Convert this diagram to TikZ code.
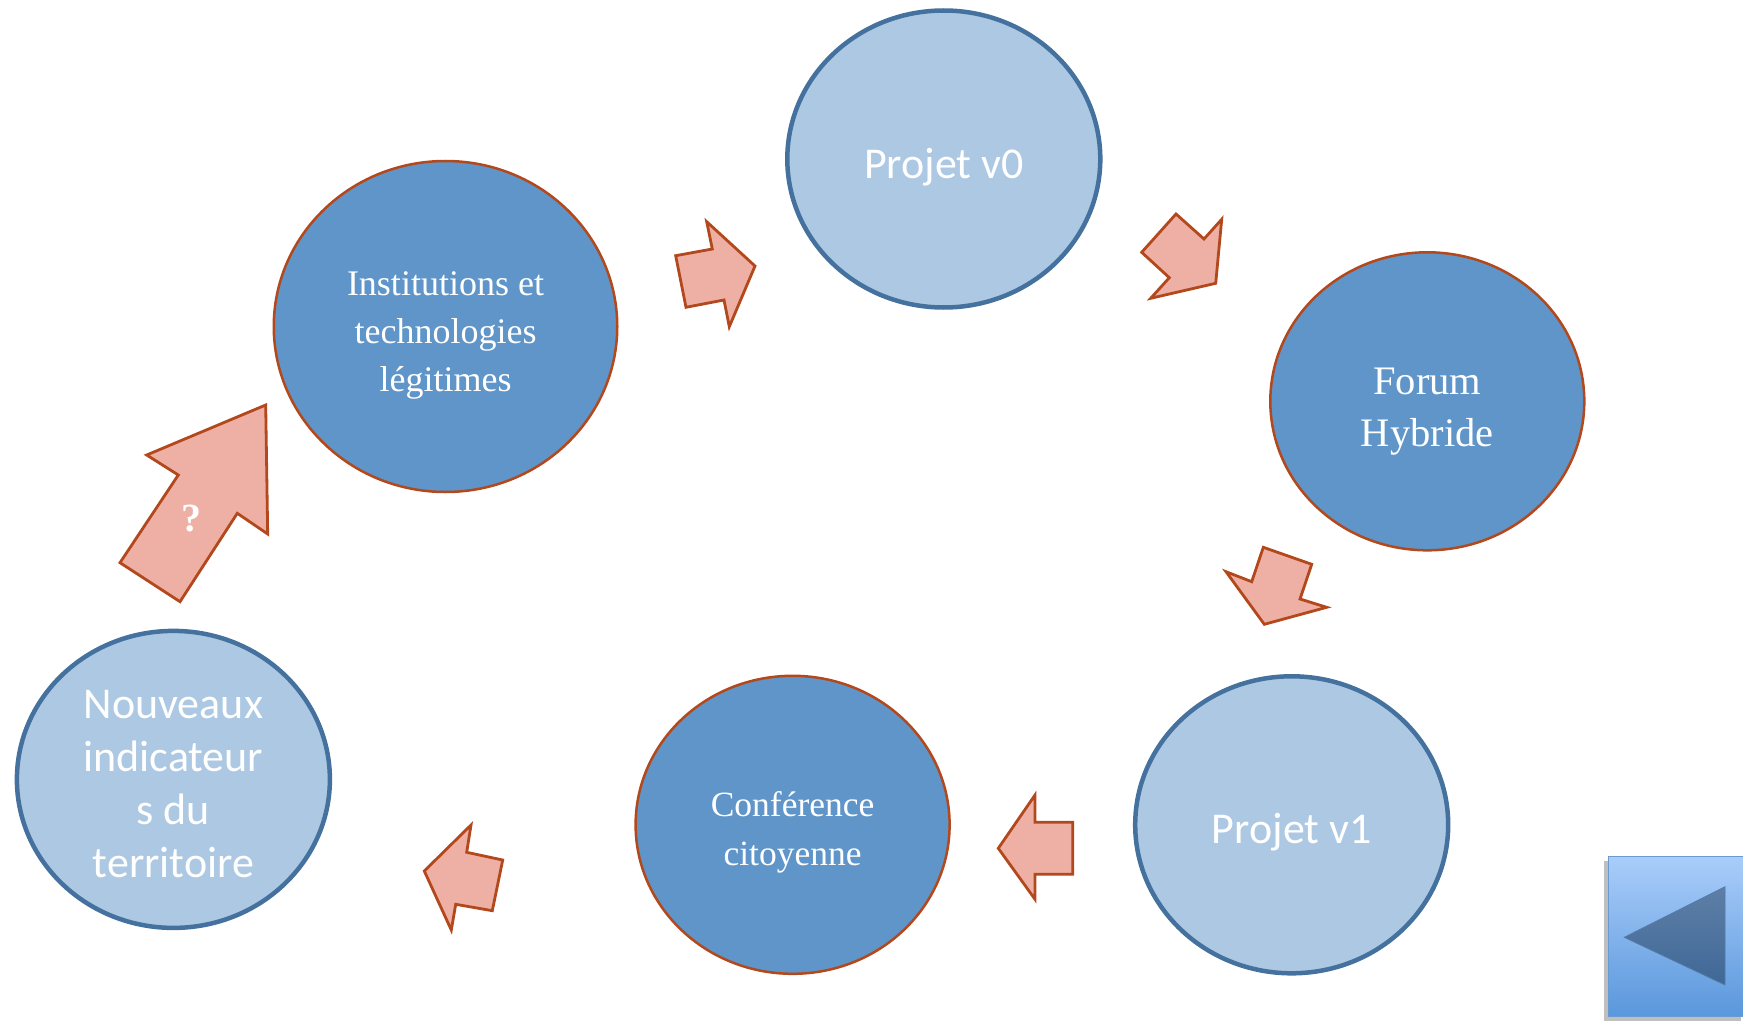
\documentclass[tikz,border=0pt]{standalone}
\usepackage{fontspec}
\newfontfamily\calib{Carlito}
\newfontfamily\serifb{Liberation Serif}
\usetikzlibrary{shapes.geometric}
\definecolor{lightfill}{HTML}{ADC8E3}
\definecolor{lightborder}{HTML}{44719E}
\definecolor{darkfill}{HTML}{5F95C8}
\definecolor{brownline}{HTML}{B2481C}
\definecolor{arrowfill}{HTML}{EEAFA4}
\definecolor{btntop}{HTML}{A9CDFA}
\definecolor{btnbot}{HTML}{5A97DC}
\definecolor{btnborder}{HTML}{6A9AD2}
\definecolor{tritop}{HTML}{5E7FA6}
\definecolor{tribot}{HTML}{3F6897}
\begin{document}
\begin{tikzpicture}[x=1pt,y=-1pt,
  lightell/.style={ellipse, draw=lightborder, line width=4.5pt, fill=lightfill,
    minimum width=313pt, minimum height=297pt, inner sep=0pt},
  darkell/.style={ellipse, draw=brownline, line width=2.5pt, fill=darkfill,
    minimum width=314pt, minimum height=298pt, inner sep=0pt},
  sanstext/.style={text=white, align=center, inner sep=0pt, font=\calib\fontsize{44}{53}\selectfont},
  seriftext/.style={text=white, align=center, inner sep=0pt},
  blockarrow/.style={draw=brownline, line width=2.8pt, fill=arrowfill, line join=miter}]
\useasboundingbox (0,0) rectangle (1743,1022);

% ellipses
\node[lightell] (v0) at (943.8,159) {};
\node[sanstext] (v0t) at ([yshift=-8pt]v0.center) {Projet v0};
\node[darkell, minimum width=343.5pt, minimum height=331pt] (inst) at (445.5,326.5) {};
\node[seriftext, font=\serifb\fontsize{36}{48}\selectfont] (instt) at ([yshift=-9pt]inst.center)
  {Institutions et\\technologies\\légitimes};
\node[darkell] (forum) at (1427.3,401.3) {};
\node[seriftext, font=\serifb\fontsize{40.5}{52}\selectfont] (forumt) at ([yshift=-10pt]forum.center) {Forum\\Hybride};
\node[lightell] (v1) at (1291.7,824.8) {};
\node[sanstext] (v1t) at ([yshift=-7pt]v1.center) {Projet v1};
\node[darkell] (conf) at (792.6,824.8) {};
\node[seriftext, font=\serifb\fontsize{35.5}{49}\selectfont] (conft) at ([yshift=-8pt]conf.center) {Conférence\\citoyenne};
\node[lightell] (nouv) at (173.4,779.4) {};
\node[sanstext] (nouvt) at ([yshift=-5pt]nouv.center) {Nouveaux\\indicateur\\s du\\territoire};

% block arrows
\draw[blockarrow] (675.7,255.7) -- (712.3,249) -- (706.7,221.7) -- (755,266)
  -- (729.3,326.7) -- (724,300) -- (686,307.3) -- cycle;
\draw[blockarrow] (1141.7,252.3) -- (1176,214) -- (1204,239) -- (1221.7,219.3)
  -- (1215.7,283.3) -- (1150.7,298.3) -- (1169.3,277.7) -- cycle;
\draw[blockarrow] (1263.3,547.3) -- (1311.7,564.3) -- (1300,599) -- (1326.7,607.3)
  -- (1264.3,624.3) -- (1226,571.7) -- (1251.7,581.7) -- cycle;
\draw[blockarrow] (1072.7,822.3) -- (1072.7,874.3) -- (1035,874.3) -- (1035,899.3)
  -- (998.3,848.3) -- (1035,795) -- (1035,822.3) -- cycle;
\draw[blockarrow] (502.7,860) -- (492.3,910.7) -- (455.7,904.3) -- (451.3,930)
  -- (424.3,871) -- (471,825) -- (466.7,852.3) -- cycle;
\draw[blockarrow] (120,562.7) -- (178.3,475) -- (146.7,455) -- (265.7,405)
  -- (267.7,534) -- (237.3,513.3) -- (180,601.7) -- cycle;
\node[text=white, font=\serifb\bfseries\fontsize{40}{42}\selectfont, inner sep=0pt] (q) at (191,519) {?};

% back button
\fill[black, opacity=0.25] (1604,861) rectangle (1741,1021);
\shade[top color=btntop, bottom color=btnbot, draw=btnborder, line width=1pt]
  (1608.3,856.7) rectangle (1743,1016.7);
\shade[top color=tritop, bottom color=tribot, draw=btnborder!80!black, line width=0.8pt]
  (1624.3,937.3) -- (1725,886.7) -- (1725,985) -- cycle;
\end{tikzpicture}
\end{document}
